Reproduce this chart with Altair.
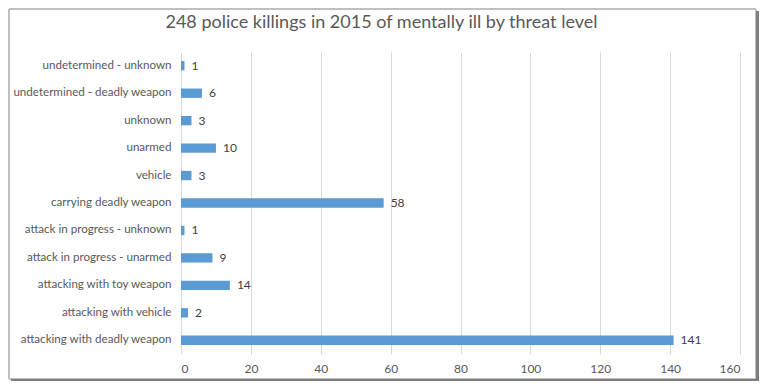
import altair as alt
import pandas as pd

categories = [
    "undetermined - unknown",
    "undetermined - deadly weapon",
    "unknown",
    "unarmed",
    "vehicle",
    "carrying deadly weapon",
    "attack in  progress - unknown",
    "attack in progress - unarmed",
    "attacking with toy weapon",
    "attacking with vehicle",
    "attacking with deadly weapon",
]
counts = [1, 6, 3, 10, 3, 58, 1, 9, 14, 2, 141]
x_ticks = [0, 20, 40, 60, 80, 100, 120, 140, 160]
title_text = "248 police killings in 2015 of mentally ill by threat level"

df = pd.DataFrame({"category": categories, "count": counts})

W, H = 559, 302
FONT = "Lato"

y_enc = alt.Y(
    "category:N",
    sort=categories,
    title=None,
    scale=alt.Scale(paddingInner=0.66, paddingOuter=0.33),
    axis=alt.Axis(
        domain=False, ticks=False, labelPadding=10, labelFontSize=11.6,
        labelColor="#595959", labelFont=FONT, labelLimit=300,
    ),
)
x_enc = alt.X(
    "count:Q",
    title=None,
    scale=alt.Scale(domain=[0, 160], nice=False),
    axis=alt.Axis(
        values=x_ticks, domain=False, ticks=False, labelPadding=9,
        labelFontSize=12, labelColor="#595959", labelFont=FONT,
        grid=True, gridColor="#D9D9D9",
    ),
)

frame = alt.Chart(df).mark_rect(fill=None, stroke="#BFBFBF", strokeWidth=1).encode(
    x=alt.value(-172), x2=alt.value(W + 16), y=alt.value(-43), y2=alt.value(H + 25)
)
shadow_r = alt.Chart(df).mark_rule(color="#7F7F7F", strokeWidth=2).encode(
    x=alt.value(W + 17.5), y=alt.value(-41), y2=alt.value(H + 26.5)
)
shadow_b = alt.Chart(df).mark_rule(color="#7F7F7F", strokeWidth=2).encode(
    x=alt.value(-170), x2=alt.value(W + 18.5), y=alt.value(H + 26.5)
)
title = alt.Chart(pd.DataFrame({"t": [title_text]})).mark_text(
    fontSize=18, font=FONT, color="#595959", align="center", baseline="middle"
).encode(x=alt.value(W / 2 - 79), y=alt.value(-29), text="t:N")

bars = alt.Chart(df).mark_bar(color="#5B9BD5").encode(x=x_enc, y=y_enc)
labels = alt.Chart(df).mark_text(
    align="left", baseline="middle", dx=7, fontSize=12, color="#404040", font=FONT
).encode(x="count:Q", y=alt.Y("category:N", sort=categories), text="count:Q")

chart = (
    alt.layer(frame, bars, labels, title, shadow_r, shadow_b)
    .properties(
        width=W,
        height=H,
        autosize=alt.AutoSizeParams(type="none"),
        padding={"left": 173, "top": 44, "right": 19, "bottom": 27},
    )
    .configure_view(stroke=None)
)

chart.save("out.html", embed_options={"renderer": "svg", "actions": False})
